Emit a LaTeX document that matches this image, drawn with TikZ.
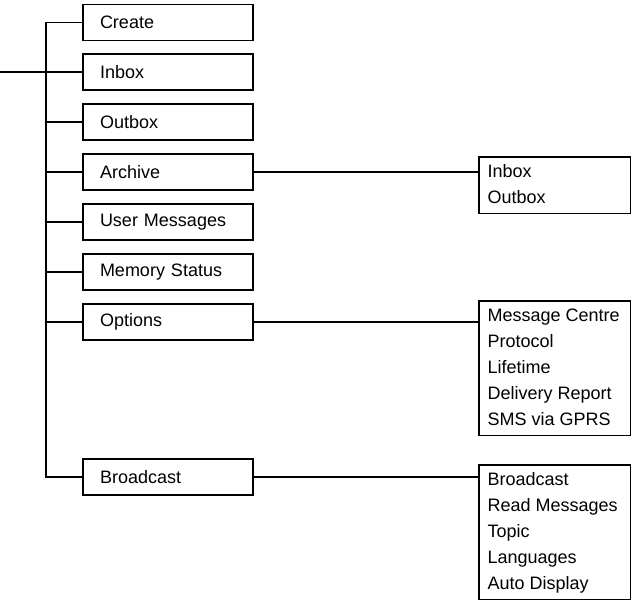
\documentclass[tikz,border=0pt]{standalone}
\usepackage{fontspec}
\setmainfont{Liberation Sans}
\usetikzlibrary{calc}
\hyphenpenalty=10000

\tikzset{
  menubox/.style={draw,line width=1.4pt,minimum height=27pt,text width=102pt,
    inner xsep=12.75pt,align=left},
  subbox/.style={draw,line width=1.4pt,anchor=north west,
    inner xsep=6.5pt,inner ysep=1.7pt},
}
\newcommand{\sublist}[1]{\begin{tabular}{@{}p{101pt}@{}}#1\end{tabular}}

\begin{document}
\begin{tikzpicture}[x=0.75pt,y=-0.75pt,line width=1.4pt,
    font=\fontsize{13.5}{19.5}\selectfont]
  \useasboundingbox (0,0) rectangle (631,603);
  \coordinate (trunk) at (46,0);
  \coordinate (entry) at (0,72);
  \node[menubox] (create) at (168,22.5) {Create};
  \node[menubox] (inbox) at (168,72) {Inbox};
  \node[menubox] (outbox) at (168,122) {Outbox};
  \node[menubox] (archive) at (168,172) {Archive};
  \node[menubox] (usermsg) at (168,222) {User Messages};
  \node[menubox] (memstat) at (168,272) {Memory Status};
  \node[menubox] (options) at (168,322) {Options};
  \node[menubox] (bcast) at (168,477) {Broadcast};
  \node[subbox] (archsub) at (478,156) {\sublist{Inbox\\Outbox}};
  \node[subbox] (optsub) at (478,300)
    {\sublist{Message Centre\\Protocol\\Lifetime\\Delivery Report\\SMS via GPRS}};
  \node[subbox] (bcastsub) at (478,464)
    {\sublist{Broadcast\\Read Messages\\Topic\\Languages\\Auto Display}};
  \draw (create.west) -- (create.west -| trunk) -- (bcast.west -| trunk) -- (bcast.west);
  \foreach \n in {inbox,outbox,archive,usermsg,memstat,options}
    \draw (\n.west) -- (\n.west -| trunk);
  \draw (entry) -- (inbox.west);
  \draw (archive.east) -- (archive.east -| archsub.west);
  \draw (options.east) -- (options.east -| optsub.west);
  \draw (bcast.east) -- (bcast.east -| bcastsub.west);
\end{tikzpicture}
\end{document}
